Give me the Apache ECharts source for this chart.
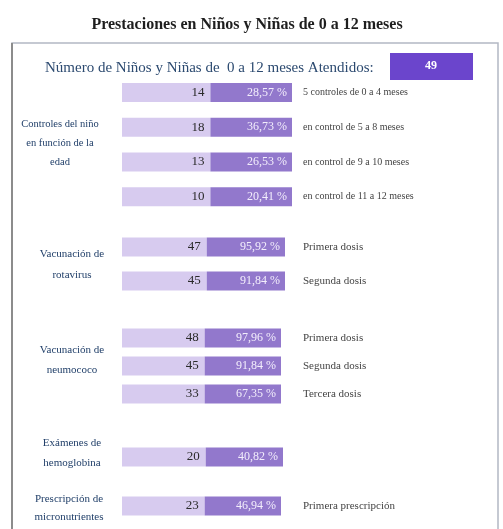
<!DOCTYPE html>
<html>
<head>
<meta charset="utf-8">
<script src="https://cdn.jsdelivr.net/npm/echarts@6/dist/echarts.min.js"></script>
<style>
  html, body { margin: 0; padding: 0; background: #ffffff; }
  #chart { width: 503px; height: 529px; }
</style>
</head>
<body>
<div id="chart"></div>
<script>
// Children seen aged 0-12 months and the services they received
const totalAtendidos = 49;

const groupLabels = [
  'Controles del niño\nen función de la\nedad',
  'Vacunación de\nrotavirus',
  'Vacunación de\nneumococo',
  'Exámenes de\nhemoglobina',
  'Prescripción de\nmicronutrientes'
];

// one entry per row: which group it belongs to, its description, count and share
const rowGroup = [0, 0, 0, 0, 1, 1, 2, 2, 2, 3, 4];
const rowLabels = [
  '5 controles de 0 a 4 meses',
  'en control de 5 a 8 meses',
  'en control de 9 a 10 meses',
  'en control de 11 a 12 meses',
  'Primera dosis',
  'Segunda dosis',
  'Primera dosis',
  'Segunda dosis',
  'Tercera dosis',
  ' ',
  'Primera prescripción'
];
const counts   = [14, 18, 13, 10, 47, 45, 48, 45, 33, 20, 23];
const percents = [28.57, 36.73, 26.53, 20.41, 95.92, 91.84, 97.96, 91.84, 67.35, 40.82, 46.94];

// panel layout, one per group
const panels = [
  { top: 75,  height: 139, width: 170, descSize: 10, nameSize: 10.5, labelMid: 143, labelX: 60, lh: 19 },
  { top: 230, height: 68,  width: 163, descSize: 11, nameSize: 11, labelMid: 265, labelX: 72, lh: 21 },
  { top: 324, height: 84,  width: 159, descSize: 11, nameSize: 11, labelMid: 360, labelX: 72, lh: 20 },
  { top: 442, height: 30,  width: 161, descSize: 11, nameSize: 11, labelMid: 453, labelX: 72, lh: 20 },
  { top: 491, height: 30,  width: 159, descSize: 11, nameSize: 11, labelMid: 508, labelX: 69, lh: 18 }
];
const CELL_LEFT = 122;
const DESC_X = 303;
const SPLIT = 0.52;
const BAR_H = 19;
const LIGHT = '#d7cbef';
const DARK = '#9278cc';
const SERIF = '"Liberation Serif", "DejaVu Serif", serif';

function fmtPct(v) {
  return v.toFixed(2).replace('.', ',') + ' %';
}

function renderRow(params, api) {
  const r = api.value(1);
  const a = api.coord([0, r]);
  const m = api.coord([SPLIT, r]);
  const b = api.coord([1, r]);
  const y = a[1] - BAR_H / 2;
  return {
    type: 'group',
    children: [
      { type: 'rect', shape: { x: a[0], y: y, width: m[0] - a[0], height: BAR_H }, style: { fill: LIGHT } },
      { type: 'rect', shape: { x: m[0], y: y, width: b[0] - m[0], height: BAR_H }, style: { fill: DARK } },
      { type: 'text', style: { x: m[0] - 6, y: a[1], text: String(api.value(0)), align: 'right', verticalAlign: 'middle',
          font: '13px ' + SERIF, fill: '#2a2a2a' } },
      { type: 'text', style: { x: b[0] - 5, y: a[1], text: fmtPct(api.value(2)), align: 'right', verticalAlign: 'middle',
          font: '12px ' + SERIF, fill: '#f3eefc' } }
    ]
  };
}

const grids = [], xAxes = [], yAxes = [], series = [];
panels.forEach(function (p, g) {
  const idx = [];
  rowGroup.forEach(function (gg, i) { if (gg === g) idx.push(i); });
  grids.push({ left: CELL_LEFT, top: p.top, width: p.width, height: p.height });
  xAxes.push({ type: 'value', gridIndex: g, min: 0, max: 1, show: false });
  yAxes.push({
    type: 'category', gridIndex: g, inverse: true, position: 'right',
    data: idx.map(function (i) { return rowLabels[i]; }),
    axisLine: { show: false }, axisTick: { show: false }, splitLine: { show: false },
    axisLabel: { interval: 0, margin: DESC_X - CELL_LEFT - p.width, align: 'left',
      fontSize: p.descSize, color: '#444444', fontFamily: SERIF }
  });
  series.push({
    type: 'custom', xAxisIndex: g, yAxisIndex: g, renderItem: renderRow,
    encode: { x: 0, y: 1 },
    data: idx.map(function (i, k) { return [counts[i], k, percents[i]]; })
  });
});

const graphics = [
  { type: 'text', x: 247, y: 25, style: { text: 'Prestaciones en Niños y Niñas de 0 a 12 meses',
      font: 'bold 16px ' + SERIF, fill: '#1e1e1e', align: 'center', verticalAlign: 'middle' } },
  { type: 'rect', shape: { x: 12, y: 43, width: 486, height: 520 },
      style: { fill: 'none', stroke: '#b3b8c4', lineWidth: 1.5 } },
  { type: 'line', shape: { x1: 12, y1: 43, x2: 12, y2: 529 }, style: { stroke: '#8c8c8c', lineWidth: 2 } },
  { type: 'text', x: 45, y: 68, style: { text: 'Número de Niños y Niñas de  0 a 12 meses Atendidos:',
      font: '15px ' + SERIF, fill: '#2c4a70', align: 'left', verticalAlign: 'middle' } },
  { type: 'rect', shape: { x: 390, y: 53, width: 83, height: 27 }, style: { fill: '#6b45cc' } },
  { type: 'text', x: 431, y: 66, style: { text: String(totalAtendidos), font: 'bold 12px ' + SERIF,
      fill: '#ffffff', align: 'center', verticalAlign: 'middle' } }
];
panels.forEach(function (p, g) {
  graphics.push({ type: 'text', x: p.labelX, y: p.labelMid, style: { text: groupLabels[g],
      font: p.nameSize + 'px ' + SERIF, lineHeight: p.lh, fill: '#22406a',
      align: 'center', verticalAlign: 'middle' } });
});

const chart = echarts.init(document.getElementById('chart'), null, { renderer: 'canvas' });
chart.setOption({
  animation: false,
  backgroundColor: '#ffffff',
  grid: grids,
  xAxis: xAxes,
  yAxis: yAxes,
  series: series,
  graphic: graphics
});
</script>
</body>
</html>
